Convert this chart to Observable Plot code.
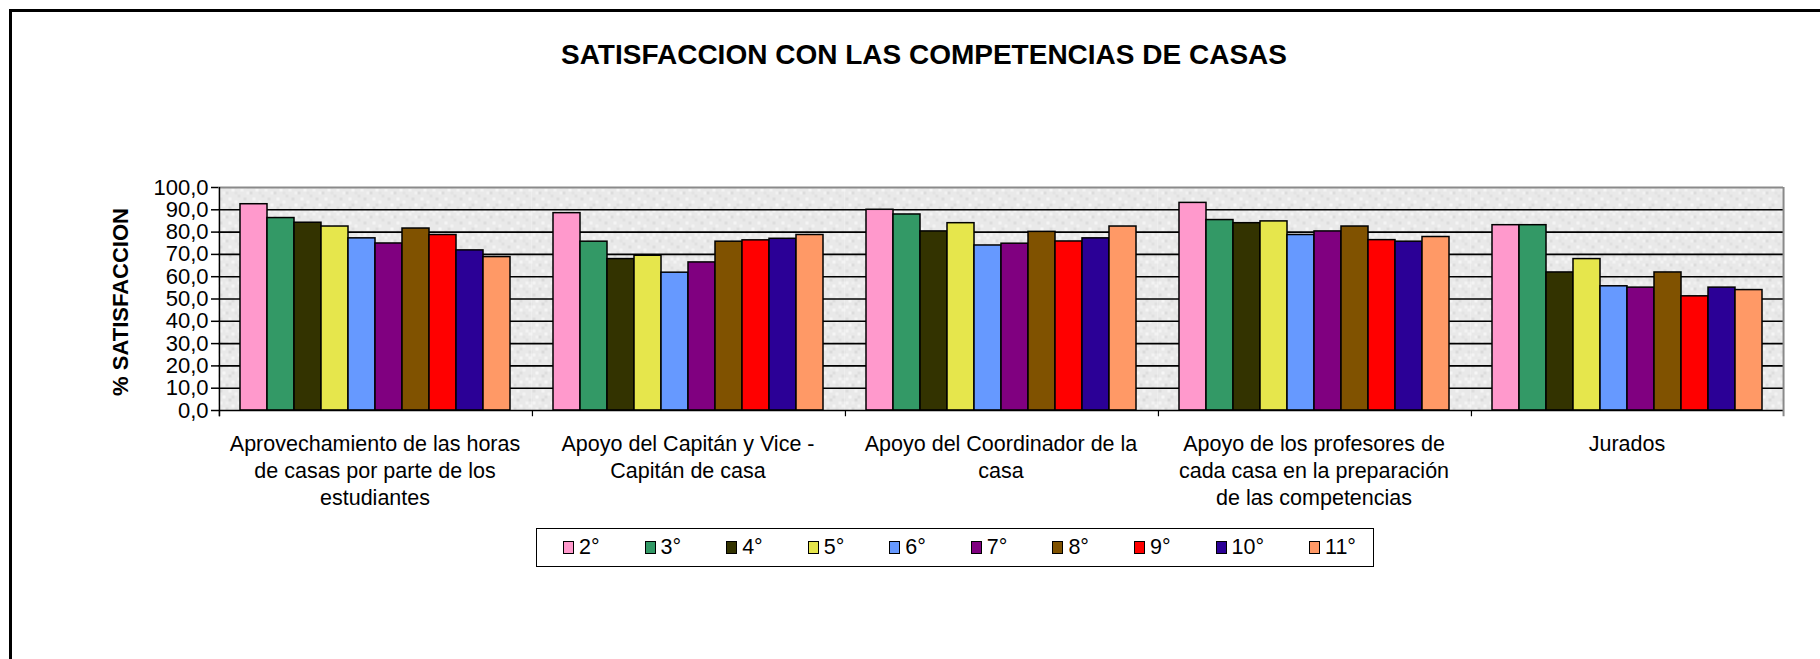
<!DOCTYPE html>
<html>
<head>
<meta charset="utf-8">
<script src="https://cdn.jsdelivr.net/npm/d3@7"></script>
<script src="https://cdn.jsdelivr.net/npm/@observablehq/plot@0.6"></script>
<style>
  body { margin: 0; background: #fff; font-family: "Liberation Sans", Arial, sans-serif; color: #000; }
  #wrap { position: relative; width: 1820px; height: 659px; overflow: hidden; background: #fff; }
  #frame { position: absolute; left: 9px; top: 9px; width: 1830px; height: 700px; border-top: 3px solid #000; border-left: 3px solid #000; box-sizing: border-box; }
  #title { position: absolute; left: 0; width: 1848px; top: 39px; text-align: center; font-weight: bold; font-size: 28px; line-height: 32px; }
  #chart { position: absolute; left: 0; top: 140px; }
  #ylabel { position: absolute; left: 121px; top: 302px; transform: translate(-50%, -50%) rotate(-90deg); font-weight: bold; font-size: 22px; white-space: nowrap; }
  #legend { position: absolute; left: 536px; top: 528px; height: 39px; border: 1.5px solid #000; box-sizing: border-box; display: flex; align-items: center; padding: 0 17px 0 26px; gap: 45px; font-size: 21.5px; background: #fff; }
  .item { display: flex; align-items: center; gap: 5px; }
  .sw { width: 11px; height: 13px; border: 1px solid #000; box-sizing: border-box; }
</style>
</head>
<body>
<div id="wrap">
  <div id="frame"></div>
  <div id="title">SATISFACCION CON LAS COMPETENCIAS DE CASAS</div>
  <div id="chart"></div>
  <div id="ylabel">% SATISFACCION</div>
  <div id="legend"></div>
</div>
<script>
// ---- data ----
const categories = [
  "Aprovechamiento de las horas de casas por parte de los estudiantes",
  "Apoyo del Capitán y Vice - Capitán de casa",
  "Apoyo del Coordinador de la casa",
  "Apoyo de los profesores de cada casa en la preparación de las competencias",
  "Jurados"
];
const categoryLabels = [
  "Aprovechamiento de las horas\nde casas por parte de los\nestudiantes",
  "Apoyo del Capitán y Vice -\nCapitán de casa",
  "Apoyo del Coordinador de la\ncasa",
  "Apoyo de los profesores de\ncada casa en la preparación\nde las competencias",
  "Jurados"
];
const grades = ["2°", "3°", "4°", "5°", "6°", "7°", "8°", "9°", "10°", "11°"];
const colors = ["#FF99CC", "#339966", "#333300", "#E6E64C", "#6699FF", "#800080", "#805200", "#FF0000", "#2B0096", "#FF9966"];
const g2  = [92.5, 88.5, 90.0, 93.1, 83.1];
const g3  = [86.3, 75.7, 87.9, 85.4, 83.1];
const g4  = [84.2, 67.9, 80.3, 84.0, 61.9];
const g5  = [82.5, 69.4, 84.0, 84.8, 67.9];
const g6  = [77.2, 61.8, 74.0, 78.7, 55.7];
const g7  = [74.9, 66.4, 74.8, 80.3, 55.1];
const g8  = [81.6, 75.7, 80.1, 82.5, 61.9];
const g9  = [78.7, 76.3, 75.8, 76.4, 51.2];
const g10 = [71.8, 77.0, 77.2, 75.7, 55.1];
const g11 = [68.8, 78.7, 82.5, 77.8, 54.0];
const yTicks = [0, 10, 20, 30, 40, 50, 60, 70, 80, 90, 100];

// ---- build table ----
const series = [g2, g3, g4, g5, g6, g7, g8, g9, g10, g11];
const data = [];
categories.forEach((c, ci) => grades.forEach((g, gi) => data.push({category: c, grade: g, value: series[gi][ci]})));
const labelOf = new Map(categories.map((c, i) => [c, categoryLabels[i]]));

const W = 1820, H = 390, mL = 218, mR = 37, mT = 47, mB = 120;
const po = 0.775;
const fw = (W - mL - mR) / categories.length;
const step = fw / (grades.length + 2 * po);
const edge = (po + 0.5) * step;
const first = [{category: categories[0]}];
const last = [{category: categories[categories.length - 1]}];
const all = categories.map(c => ({category: c}));

const chart = Plot.plot({
  width: W, height: H,
  marginLeft: mL, marginRight: mR, marginTop: mT, marginBottom: mB,
  style: {fontFamily: "'Liberation Sans', Arial, sans-serif", fontSize: "21.5px", color: "#000", background: "transparent", overflow: "visible"},
  fx: {domain: categories, padding: 0, axis: null, label: null},
  x: {domain: grades, paddingInner: 0, paddingOuter: po, axis: null},
  y: {domain: [0, 100], axis: null, label: null},
  color: {domain: grades, range: colors},
  marks: [
    Plot.frame({fill: "url(#tex)", stroke: null}),
    Plot.gridY(yTicks.slice(1, -1), {stroke: "#000", strokeOpacity: 1, strokeWidth: 1.6}),
    Plot.ruleY([100], {stroke: "#8a8a8a", strokeWidth: 2}),
    Plot.barY(data, {fx: "category", x: "grade", y: "value", fill: "grade", stroke: "#000", strokeWidth: 1.5}),
    Plot.ruleY([0], {stroke: "#000", strokeWidth: 1.5}),
    Plot.ruleX(first, {fx: "category", x: () => grades[0], dx: -edge, y1: () => -2.8, y2: () => 100, stroke: "#000", strokeWidth: 1.5}),
    Plot.ruleX(last, {fx: "category", x: () => grades[grades.length - 1], dx: edge, y1: () => -2.8, y2: () => 100, stroke: "#8a8a8a", strokeWidth: 2}),
    Plot.ruleX(all, {fx: "category", x: () => grades[0], dx: -edge, y1: () => -2.8, y2: () => 0, stroke: "#000", strokeWidth: 1.2}),
    Plot.axisY(yTicks, {anchor: "left", tickSize: 7, tickPadding: 3, tickFormat: d => d.toFixed(1).replace(".", ","), fontSize: 22, label: null, strokeWidth: 1.5}),
    Plot.axisFx({anchor: "bottom", tickSize: 0, tickPadding: 22, lineHeight: 1.24, fontSize: 21.5, tickFormat: d => labelOf.get(d), label: null})
  ]
});

// speckled gray texture for the plot background (fixed tile)
const ns = "http://www.w3.org/2000/svg";
const defs = document.createElementNS(ns, "defs");
const pat = document.createElementNS(ns, "pattern");
pat.setAttribute("id", "tex");
pat.setAttribute("width", "24");
pat.setAttribute("height", "24");
pat.setAttribute("patternUnits", "userSpaceOnUse");
const tile = [
  [0, 0, 24, 24, "#E9E9E9"],
  [0, 0, 3, 3, "#F3F3F3"], [9, 3, 3, 3, "#DCDCDC"], [15, 0, 3, 3, "#F5F5F5"], [21, 6, 3, 3, "#E0E0E0"],
  [3, 9, 3, 3, "#DDDDDD"], [12, 9, 3, 3, "#F4F4F4"], [18, 12, 3, 3, "#F2F2F2"], [6, 15, 3, 3, "#F6F6F6"],
  [0, 18, 3, 3, "#E0E0E0"], [12, 18, 3, 3, "#DADADA"], [21, 21, 3, 3, "#F3F3F3"], [6, 3, 3, 3, "#F1F1F1"],
  [15, 15, 3, 3, "#DEDEDE"], [3, 21, 3, 3, "#F4F4F4"], [18, 3, 3, 3, "#E3E3E3"], [9, 21, 3, 3, "#EFEFEF"]
];
tile.forEach(([x, y, w, h, f]) => {
  const r = document.createElementNS(ns, "rect");
  r.setAttribute("x", x); r.setAttribute("y", y); r.setAttribute("width", w); r.setAttribute("height", h); r.setAttribute("fill", f);
  pat.appendChild(r);
});
defs.appendChild(pat);
chart.insertBefore(defs, chart.firstChild);
document.getElementById("chart").appendChild(chart);

// ---- legend ----
const legend = document.getElementById("legend");
grades.forEach((g, i) => {
  const it = document.createElement("div");
  it.className = "item";
  const sw = document.createElement("div");
  sw.className = "sw";
  sw.style.background = colors[i];
  const t = document.createElement("span");
  t.textContent = g;
  it.appendChild(sw); it.appendChild(t);
  legend.appendChild(it);
});
</script>
</body>
</html>
